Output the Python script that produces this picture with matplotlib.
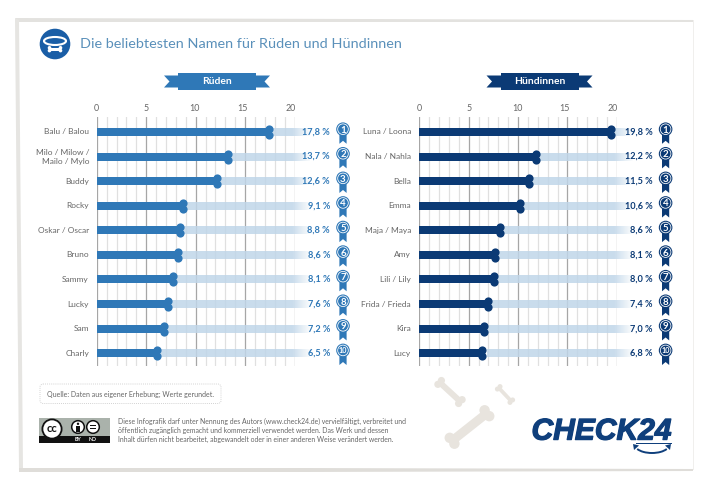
import matplotlib
matplotlib.use("Agg")
import numpy as np
import matplotlib.pyplot as plt
import matplotlib.patheffects as pe
from matplotlib.patches import Circle, Polygon, Rectangle, FancyBboxPatch, Ellipse, Arc
from matplotlib.transforms import ScaledTranslation

plt.rcParams['font.family'] = ['Lato', 'DejaVu Sans']

W, H = 710, 484
names_m = ["Balu / Balou", "Milo / Milow /\nMailo / Mylo", "Buddy", "Rocky", "Oskar / Oscar",
           "Bruno", "Sammy", "Lucky", "Sam", "Charly"]
values_m = [17.8, 13.7, 12.6, 9.1, 8.8, 8.6, 8.1, 7.6, 7.2, 6.5]
names_f = ["Luna / Loona", "Nala / Nahla", "Bella", "Emma", "Maja / Maya",
           "Amy", "Lili / Lily", "Frida / Frieda", "Kira", "Lucy"]
values_f = [19.8, 12.2, 11.5, 10.6, 8.6, 8.1, 8.0, 7.4, 7.0, 6.8]
ticks = [0, 5, 10, 15, 20]
tick_shift_px = [0, 0, -1, -3, -4]
title = "Die beliebtesten Namen für Rüden und Hündinnen"
source = "Quelle: Daten aus eigener Erhebung; Werte gerundet."
licence = ["Diese Infografik darf unter Nennung des Autors (www.check24.de) vervielfältigt, verbreitet und",
           "öffentlich zugänglich gemacht und kommerziell verwendet werden. Das Werk und dessen",
           "Inhalt dürfen nicht bearbeitet, abgewandelt oder in einer anderen Weise verändert werden."]

BLUE = "#2f78b7"
NAVY = "#0b3a75"
BAND = "#c0d6e9"
GREY = "#666666"

fig = plt.figure(figsize=(W / 100, H / 100), dpi=100, facecolor="white")
bg = fig.add_axes([0, 0, 1, 1], zorder=0)
bg.set_xlim(0, W); bg.set_ylim(H, 0); bg.axis("off")
top = fig.add_axes([0, 0, 1, 1], zorder=5)
top.set_xlim(0, W); top.set_ylim(H, 0); top.axis("off"); top.patch.set_alpha(0)

# rough paper frame
bg.add_patch(Polygon([(15, 18), (360, 19), (693, 20), (693, 22), (360, 22), (19, 22)], color="#e3e2df", lw=0))
bg.add_patch(Polygon([(15, 18), (19, 20), (23, 470), (19, 470)], color="#e6e5e2", lw=0))
bg.add_patch(Polygon([(19, 468), (300, 468), (693, 469), (693, 471), (300, 472), (19, 472)], color="#dfddd9", lw=0))
bg.add_patch(Polygon([(692.5, 20), (694, 20), (694, 470), (692.5, 470)], color="#f0efed", lw=0))

# title icon
bg.add_patch(Circle((55, 44), 15.3, color="#1a5ea6", lw=0))
bg.add_patch(Ellipse((55, 41), 22, 8, fc="none", ec="white", lw=1.5))
bg.add_patch(Rectangle((50, 47.5), 10, 3.5, color="white", lw=0))
for dx in (-5.5, 5.5):
    for dy in (-1.2, 1.6):
        bg.add_patch(Circle((55 + dx, 49 + dy), 1.8, color="white", lw=0))
bg.text(80, 44, title, fontsize=10.4, color="#5a90ba", va="center", ha="left")


def banner(cx, label, color):
    bg.add_patch(Polygon([(cx - 46, 75.5), (cx - 53, 75.5), (cx - 47.5, 81.5), (cx - 53, 87.5), (cx - 36, 87.5), (cx - 36, 75.5)],
                         color=color, lw=0))
    bg.add_patch(Polygon([(cx + 46, 75.5), (cx + 53, 75.5), (cx + 47.5, 81.5), (cx + 53, 87.5), (cx + 36, 87.5), (cx + 36, 75.5)],
                         color=color, lw=0))
    bg.add_patch(Rectangle((cx - 39, 73), 78, 17, color=color, lw=0))
    bg.text(cx, 81.2, label, color="white", fontsize=7.4, fontweight="bold", ha="center", va="center")


banner(217, "Rüden", BLUE)
banner(539.5, "Hündinnen", NAVY)

ROW0, STEP = 132.0, 24.58
TOP, BOT = 117.0, 366.0


def panel(x0, x20, names, values, color, lab_x, val_x, med_x):
    ax = fig.add_axes([x0 / W, 1 - BOT / H, (x20 - x0) / W, (BOT - TOP) / H], zorder=2)
    ax.patch.set_alpha(0)
    ppx = 20 / (x20 - x0)
    for s in ax.spines.values():
        s.set_visible(False)
    for m in range(21):
        major = m % 5 == 0
        ax.axvline(m, color="#a6a6a6" if major else "#e0e0e0", lw=0.9, zorder=1)
    y = np.arange(len(values))
    h = 8 / STEP
    vals = np.array(values)
    ax.barh(y, 21.6 - vals, left=vals, height=h, color=BAND, alpha=0.85, zorder=2, clip_on=False)
    grad = np.ones((1, 64, 4))
    grad[..., 3] = np.linspace(0, 1, 64)
    for yi in y:
        ax.imshow(grad, extent=(19.7, 21.65, yi + h / 2 + .01, yi - h / 2 - .01), aspect="auto", zorder=3,
                  clip_on=False, interpolation="bilinear")
    ax.set_xlim(0, 20)
    ax.set_ylim((BOT - ROW0) / STEP, (TOP - ROW0) / STEP)
    ax.barh(y, vals - 4 * ppx, height=h, color=color, zorder=4)
    off = 3.0 / STEP
    ax.scatter(vals - 4.1 * ppx, y - off, s=(8.2 * 0.72) ** 2, color=color, zorder=5, lw=0, clip_on=False)
    ax.scatter(vals - 4.1 * ppx, y + off, s=(8.2 * 0.72) ** 2, color=color, zorder=5, lw=0, clip_on=False)
    ax.set_yticks([])
    ax.xaxis.tick_top()
    ax.set_xticks(ticks)
    ax.set_xticklabels([str(t) for t in ticks], fontsize=6.4, color=GREY)
    ax.tick_params(axis="x", length=0, pad=3)
    for lab, sh in zip(ax.get_xticklabels(), tick_shift_px):
        lab.set_transform(lab.get_transform() + ScaledTranslation(sh / 100, 0, fig.dpi_scale_trans))
    for i, (n, v) in enumerate(zip(names, values)):
        py = ROW0 + STEP * i
        top.text(lab_x, py, n, ha="right", va="center", fontsize=6.0, color=GREY, linespacing=1.35)
        top.text(val_x, py, f"{v:.1f} %".replace(".", ","), ha="right", va="center", fontsize=6.6,
                 fontweight="bold", color=color)
        my = py - 2.8
        top.add_patch(Polygon([(med_x - 3.6, my + 4), (med_x + 3.6, my + 4), (med_x + 3.6, py + 11.8),
                               (med_x, py + 8.8), (med_x - 3.6, py + 11.8)], color=color, lw=0))
        top.add_patch(Circle((med_x, my), 6.8, color=color, lw=0))
        top.add_patch(Circle((med_x, my), 5.7, color="white", lw=0))
        top.add_patch(Circle((med_x, my), 4.9, color=color, lw=0))
        top.text(med_x, my, str(i + 1), color="white", ha="center", va="center_baseline",
                 fontsize=7.0 if i < 9 else 5.2, fontweight="bold")
    return ax


panel(96.8, 294.6, names_m, values_m, BLUE, 89, 330, 343)
panel(419.4, 616.8, names_f, values_f, NAVY, 411, 652.7, 665.6)

# source box
bg.add_patch(FancyBboxPatch((40, 384), 181, 19.5, boxstyle="round,pad=0,rounding_size=3", fc="white",
                            ec="#c4c4c4", lw=0.6, ls=(0, (1, 1.5))))
bg.text(47, 394, source, fontsize=5.0, color="#666666", va="center", ha="left")

# licence badge
bg.add_patch(Rectangle((39, 418), 71, 25, color="#aab2ab", lw=0))
bg.add_patch(Rectangle((39, 436), 71, 7, color="#111111", lw=0))
bg.add_patch(Circle((52, 429), 9.6, fc="white", ec="#111111", lw=1.3))
bg.text(52, 428.6, "cc", fontsize=8, fontweight="bold", ha="center", va="center", color="#111111")
bg.add_patch(Circle((78, 427), 6.3, fc="white", ec="#111111", lw=1.1))
bg.add_patch(Circle((78, 423.8), 1.2, color="#111111", lw=0))
bg.add_patch(Rectangle((76.4, 425.5), 3.2, 6, color="#111111", lw=0))
bg.add_patch(Circle((93, 427), 6.3, fc="white", ec="#111111", lw=1.1))
bg.add_patch(Rectangle((90, 425), 6, 1.3, color="#111111", lw=0))
bg.add_patch(Rectangle((90, 428), 6, 1.3, color="#111111", lw=0))
bg.text(78, 439.7, "BY", fontsize=3.8, fontweight="bold", color="white", ha="center", va="center")
bg.text(93, 439.7, "ND", fontsize=3.8, fontweight="bold", color="white", ha="center", va="center")
for i, line in enumerate(licence):
    bg.text(118.5, 421.3 + 9.0 * i, line, fontsize=4.95, color="#666666", va="center", ha="left")


def bone(p, q, t, r, color="#e8e4de"):
    p, q = np.array(p, float), np.array(q, float)
    d = (q - p) / np.linalg.norm(q - p)
    n = np.array([-d[1], d[0]])
    a, b = p + d * r, q - d * r
    bg.add_patch(Polygon([a + n * t, b + n * t, b - n * t, a - n * t], color=color, lw=0))
    for c in (a, b):
        bg.add_patch(Circle(c + n * r * .72, r, color=color, lw=0))
        bg.add_patch(Circle(c - n * r * .72, r, color=color, lw=0))


bone((437, 380), (463, 404), 3.0, 3.6)
bone((497, 386), (513, 403), 1.9, 2.5)
bone((448, 444), (491, 410), 4.5, 5.2)

# logo
LOGO = "#0f3f7c"
bg.text(531.5, 431.6, "CHECK24", fontsize=21.6, fontweight="bold", style="italic", color=LOGO,
        family="Liberation Sans", ha="left", va="center",
        path_effects=[pe.withStroke(linewidth=0.9, foreground=LOGO)])
bg.add_patch(Rectangle((636, 442.6), 36, 1.6, color=LOGO, lw=0))
bg.add_patch(Arc((652, 445), 34, 16, theta1=15, theta2=165, color=LOGO, lw=1.4))
bg.add_patch(Polygon([(633, 444), (639, 445.5), (634, 450)], color=LOGO, lw=0))
bg.add_patch(Polygon([(671, 444), (665, 445.5), (670, 450)], color=LOGO, lw=0))

fig.savefig("out.png", dpi=100, facecolor="white")
